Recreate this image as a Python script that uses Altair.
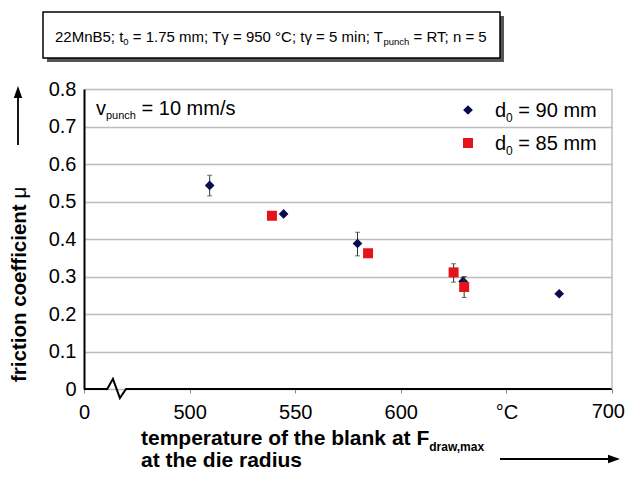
import altair as alt
import pandas as pd

FONT = "Liberation Sans"

# ---------------- data ----------------
# x = temperature of blank [°C]; the value 450 stands for the broken-axis "0"
d90_temp = [509.5, 544.5, 579.5, 629.5, 675.0]
d90_mu = [0.543, 0.467, 0.388, 0.287, 0.254]
d90_lo = [0.515, None, 0.355, 0.276, None]
d90_hi = [0.570, None, 0.418, 0.297, None]

d85_temp = [539.0, 584.5, 625.0, 630.0]
d85_mu = [0.462, 0.362, 0.311, 0.272]
d85_lo = [None, None, 0.285, 0.244]
d85_hi = [None, None, 0.334, 0.300]

x_ticks = [450, 500, 550, 600, 650, 700]
y_ticks = [0, 0.1, 0.2, 0.3, 0.4, 0.5, 0.6, 0.7, 0.8]

# broken x-axis line (zig-zag)
break_x = [450, 461, 463.7, 467, 469.9, 700]
break_y = [0, 0, 0.027, -0.024, 0, 0]

NAVY = "#0b0b4f"
RED = "#e3141b"

d90 = pd.DataFrame({"t": d90_temp, "mu": d90_mu, "lo": d90_lo, "hi": d90_hi})
d85 = pd.DataFrame({"t": d85_temp, "mu": d85_mu, "lo": d85_lo, "hi": d85_hi})
axis_line = pd.DataFrame({"t": break_x, "mu": break_y})
border = pd.DataFrame({"t": [700], "mu": [0.0], "hi": [0.8]})
dummy = pd.DataFrame({"k": [0]})

xscale = alt.Scale(domain=[450, 700], nice=False, zero=False)
yscale = alt.Scale(domain=[0, 0.8], nice=False, zero=False)

xaxis = alt.Axis(values=x_ticks, title=None, grid=False, domain=False,
                 labelExpr="datum.value == 450 ? '0' : (datum.value == 650 ? '°C' : (datum.value == 700 ? '' : datum.label))",
                 labelFontSize=20, labelColor="black", labelFont=FONT, labelPadding=9,
                 tickSize=4, tickColor="#888888", labelFlush=False, labelOverlap=False)
yaxis = alt.Axis(values=y_ticks, title=None, format=".1f",
                 labelExpr="datum.value == 0 ? '0' : datum.label",
                 grid=True, gridColor="#bdbdbd", gridWidth=1.5,
                 domainColor="black", domainWidth=2, ticks=False, labelOverlap=False,
                 labelFontSize=20, labelColor="black", labelFont=FONT, labelPadding=8)

base_x = alt.X("t:Q", scale=xscale, axis=xaxis)
base_y = alt.Y("mu:Q", scale=yscale, axis=yaxis)

# ---------------- text helpers ----------------
REG = {' ': 278, '=': 584, '.': 278, ';': 278, ',': 278, '/': 278, '°': 400, 'γ': 500, 'μ': 576,
       'M': 833, 'B': 667, 'T': 611, 'C': 722, 'R': 722, 'F': 611,
       'a': 556, 'b': 556, 'c': 500, 'd': 556, 'e': 556, 'f': 278, 'h': 556, 'i': 222, 'k': 500,
       'l': 222, 'm': 833, 'n': 556, 'o': 556, 'p': 556, 'r': 333, 's': 500, 't': 278, 'u': 556,
       'v': 500, 'w': 722, 'x': 500, 'y': 500}
BOLD = {' ': 278, ',': 278, 'F': 611, 'a': 556, 'b': 611, 'c': 556, 'd': 611, 'e': 556, 'f': 333,
        'h': 611, 'i': 278, 'k': 556, 'l': 278, 'm': 889, 'n': 611, 'o': 611, 'p': 611, 'r': 389,
        's': 556, 't': 333, 'u': 611, 'w': 778, 'x': 556}
for dgt in "0123456789":
    REG[dgt] = 556
    BOLD[dgt] = 556


def tw(s, size, bold=False):
    tab = BOLD if bold else REG
    return sum(tab.get(c, 556) for c in s) * size / 1000.0


def txt(s, x, y, size, bold=False, angle=0, baseline="alphabetic", align="left"):
    return alt.Chart(dummy).mark_text(
        text=s, fontSize=size, fontWeight="bold" if bold else "normal", font=FONT,
        color="black", align=align, baseline=baseline, angle=angle
    ).encode(x=alt.value(x), y=alt.value(y))


def rich(segs, x0, y0):
    out = []
    x = x0
    for s, size, bold, dy in segs:
        stripped = s.lstrip(" ")
        x += tw(s[:len(s) - len(stripped)], size, bold)
        out.append(txt(stripped, x, y0 + dy, size, bold))
        x += tw(stripped, size, bold)
    return out


# ---------------- marks ----------------
layers = []

# bottom axis with break (first layer carries the axes)
layers.append(alt.Chart(axis_line).mark_line(color="black", strokeWidth=2).encode(
    x=base_x, y=base_y))

# right border of plot area
layers.append(alt.Chart(border).mark_rule(color="#bdbdbd", strokeWidth=1.5).encode(
    x=base_x, y=base_y, y2="hi:Q"))


def series(df, shape, color, size):
    err = df.dropna()
    rule = alt.Chart(err).mark_rule(color="#333333", strokeWidth=1).encode(
        x=base_x, y=alt.Y("lo:Q", scale=yscale, axis=yaxis), y2="hi:Q")
    cap_lo = alt.Chart(err).mark_tick(color="#333333", orient="horizontal", size=5, thickness=1).encode(
        x=base_x, y=alt.Y("lo:Q", scale=yscale, axis=yaxis))
    cap_hi = alt.Chart(err).mark_tick(color="#333333", orient="horizontal", size=5, thickness=1).encode(
        x=base_x, y=alt.Y("hi:Q", scale=yscale, axis=yaxis))
    pts = alt.Chart(df).mark_point(shape=shape, filled=True, color=color, size=size, opacity=1).encode(
        x=base_x, y=base_y)
    return [rule, cap_lo, cap_hi, pts]


layers += series(d90, "diamond", NAVY, 95)
layers += series(d85, "square", RED, 100)

# "700" tick label drawn by hand so it stays inside the page
layers.append(txt("700", 541, 313, 20, align="right", baseline="top"))

# legend (inside plot)
layers.append(alt.Chart(dummy).mark_point(shape="diamond", filled=True, color=NAVY, size=95, opacity=1)
              .encode(x=alt.value(384), y=alt.value(21)))
layers.append(alt.Chart(dummy).mark_point(shape="square", filled=True, color=RED, size=100, opacity=1)
              .encode(x=alt.value(384), y=alt.value(54)))
layers += rich([("d", 20, False, 0), ("0", 12, False, 5), (" = 90 mm", 20, False, 0)], 411, 28)
layers += rich([("d", 20, False, 0), ("0", 12, False, 5), (" = 85 mm", 20, False, 0)], 411, 61)

# v_punch annotation
layers += rich([("v", 20, False, 0), ("punch", 11, False, 4), (" = 10 mm/s", 20, False, 0)], 12, 26)

# title box with shadow
layers.append(alt.Chart(dummy).mark_rect(color="#555555").encode(
    x=alt.value(-37), x2=alt.value(420), y=alt.value(-73), y2=alt.value(-27)))
layers.append(alt.Chart(dummy).mark_rect(fill="white", stroke="black", strokeWidth=1.5).encode(
    x=alt.value(-41), x2=alt.value(416), y=alt.value(-77), y2=alt.value(-31)))
layers += rich([("22MnB5; t", 15, False, 0), ("0", 9.5, False, 3),
                (" = 1.75 mm; Tγ = 950 °C; tγ = 5 min; T", 15, False, 0),
                ("punch", 9.5, False, 3), (" = RT; n = 5", 15, False, 0)], -29, -47)

# y title (rotated) with arrow
ytx, yty = -64, 293
layers.append(txt("friction coefficient", ytx, yty, 20.5, True, angle=270, baseline="middle"))
layers.append(txt("μ", ytx, yty - tw("friction coefficient ", 20.5, True), 20.5, False,
                  angle=270, baseline="middle"))
layers.append(alt.Chart(dummy).mark_rule(color="black", strokeWidth=1.8).encode(
    x=alt.value(-66), y=alt.value(56), y2=alt.value(8)))
layers.append(alt.Chart(dummy).mark_point(shape="M0,-1L0.7,1L-0.7,1Z", filled=True, color="black",
                                          size=144, opacity=1).encode(x=alt.value(-66), y=alt.value(3)))

# x title (two lines) with arrow
layers += rich([("temperature of the blank at F", 21, True, 0), ("draw,max", 12, True, 6)], 57, 356)
layers.append(txt("at the die radius", 57, 378, 21, True))
layers.append(alt.Chart(dummy).mark_rule(color="black", strokeWidth=1.8).encode(
    x=alt.value(416), x2=alt.value(526), y=alt.value(370)))
layers.append(alt.Chart(dummy).mark_point(shape="M1,0L-1,-0.7L-1,0.7Z", filled=True, color="black",
                                          size=144, opacity=1).encode(x=alt.value(530), y=alt.value(370)))

chart = alt.layer(*layers).properties(
    width=528, height=300, autosize="none",
    padding={"left": 76, "top": 81, "right": 14, "bottom": 82},
).configure_view(stroke=None)

chart.save("out.html", embed_options={"renderer": "svg", "actions": False})
